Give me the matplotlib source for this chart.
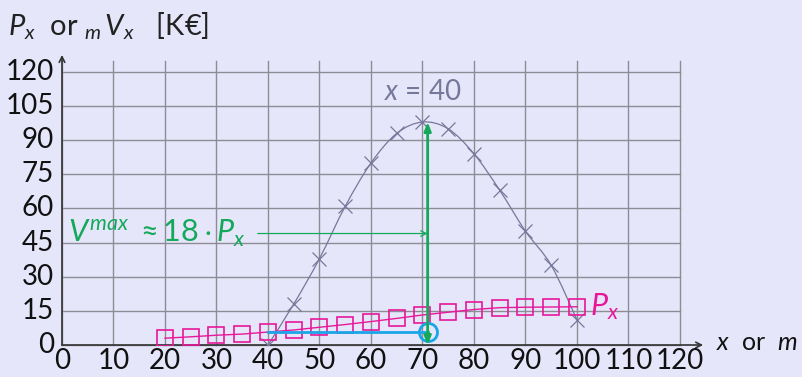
import numpy as np
import matplotlib
matplotlib.use("Agg")
import matplotlib.pyplot as plt
from matplotlib.path import Path
from matplotlib.patches import PathPatch

# ---- data ----
v_x = [40, 45, 50, 55, 60, 65, 70, 75, 80, 85, 90, 95, 100]
v_y = [0, 18, 38, 61, 80, 93, 98, 95, 84, 68, 50, 35, 11]
p_x = [20, 25, 30, 35, 40, 45, 50, 55, 60, 65, 70, 75, 80, 85, 90, 95, 100]
p_y = [3, 3.6, 4.3, 4.8, 5.7, 6.6, 7.8, 9.0, 10.3, 11.7, 13.2, 14.4, 15.6, 16.4, 16.6, 16.7, 16.8]
x_ticks = [0, 10, 20, 30, 40, 50, 60, 70, 80, 90, 100, 110, 120]
y_ticks = [0, 15, 30, 45, 60, 75, 90, 105, 120]
x_opt = 71
v_max = 98
p_at_40 = 5.6
ann_y = 49
ann_x0 = 38

BG = "#e6e6fa"
GRAY = "#77779a"
PINK = "#e8189a"
GREEN = "#14a85a"
CYAN = "#1aa6e6"

plt.rcParams['font.family'] = ['Lato', 'DejaVu Sans']
plt.rcParams['mathtext.fontset'] = 'custom'
plt.rcParams['mathtext.rm'] = 'Lato'
plt.rcParams['mathtext.it'] = 'Lato:italic'
plt.rcParams['mathtext.bf'] = 'Lato:bold'
plt.rcParams['mathtext.sf'] = 'Lato'
plt.rcParams['mathtext.fallback'] = 'stixsans'

fig = plt.figure(figsize=(8.03, 3.77), dpi=100, facecolor=BG)
ax = fig.add_axes([62/803, 32/377, 618/803, (345-60.6)/377])
ax.set_facecolor(BG)
ax.set_xlim(0, 120)
ax.set_ylim(0, 125)
for s in ax.spines.values():
    s.set_visible(False)
ax.set_xticks([])
ax.set_yticks([])

# grid
for xv in x_ticks:
    ax.plot([xv, xv], [0, 125], color="#8c8c94", lw=1.0, zorder=1, clip_on=False)
for yv in y_ticks:
    ax.plot([0, 120], [yv, yv], color="#8c8c94", lw=1.0, zorder=1, clip_on=False)

# axes arrows
ax.annotate("", xy=(124.5, 0), xytext=(0, 0), annotation_clip=False,
            arrowprops=dict(arrowstyle="->", color="#333333", lw=1.2, shrinkA=0, shrinkB=0))
ax.annotate("", xy=(0, 127.5), xytext=(0, 0), annotation_clip=False,
            arrowprops=dict(arrowstyle="->", color="#333333", lw=1.2, shrinkA=0, shrinkB=0))

# tick labels
for xv in x_ticks:
    ax.text(xv, -1.5, str(xv), ha="center", va="top", fontsize=20, color="#111111")
for yv in y_ticks:
    ax.text(-1.6, yv, str(yv), ha="right", va="center", fontsize=20, color="#111111")

# smooth curve (Catmull-Rom via Bezier path)
pts = np.column_stack([v_x, v_y]).astype(float)
verts = [tuple(pts[0])]
codes = [Path.MOVETO]
n = len(pts)
for i in range(n - 1):
    p0 = pts[max(i - 1, 0)]
    p1 = pts[i]
    p2 = pts[i + 1]
    p3 = pts[min(i + 2, n - 1)]
    c1 = p1 + (p2 - p0) / 6.0
    c2 = p2 - (p3 - p1) / 6.0
    verts += [tuple(c1), tuple(c2), tuple(p2)]
    codes += [Path.CURVE4] * 3
ax.add_patch(PathPatch(Path(verts, codes), fill=False, edgecolor=GRAY, lw=0.9, zorder=3))
ax.plot(v_x, v_y, ls="none", marker="x", ms=10, mew=0.9, color=GRAY, zorder=4)

# P_x line
ax.plot(p_x, p_y, color=PINK, lw=1.0, marker="s", ms=11, mfc="none", mew=1.2, zorder=5)

# cyan line + circle
ax.plot([40, x_opt], [p_at_40, p_at_40], color=CYAN, lw=2.0, zorder=6)
ax.plot([x_opt], [p_at_40], marker="o", ms=13, mfc="none", mec=CYAN, mew=2.0, zorder=7)

# green double arrow
ax.annotate("", xy=(x_opt, v_max), xytext=(x_opt, 0),
            arrowprops=dict(arrowstyle="<|-|>,head_length=0.5,head_width=0.2", color=GREEN, lw=2.0,
                            shrinkA=0, shrinkB=0), zorder=8)
# green thin arrow
ax.annotate("", xy=(x_opt, ann_y), xytext=(ann_x0, ann_y),
            arrowprops=dict(arrowstyle="->", color=GREEN, lw=0.9, shrinkA=0, shrinkB=0), zorder=8)
ax.text(1.2, ann_y, r"$V^{max}$ $\approx 18\cdot P_x$", color=GREEN, fontsize=22,
        ha="left", va="center", zorder=9)

# labels
ax.text(x_opt - 1, 105.5, r"$x$ = 40", color=GRAY, fontsize=20, ha="center", va="bottom")
ax.text(102.5, 17, r"$P_x$", color=PINK, fontsize=22, ha="left", va="center")
fig.text(716/803, 1 - 342/377, r"$x$  or  $m$", fontsize=18, ha="left", va="center", color="#111111")
fig.text(8/803, 1 - 26/377, r"$P_x$  or $_m\,V_x$   [K€]", fontsize=21, ha="left", va="center", color="#222222")

fig.savefig("out.png", dpi=100, facecolor=BG)
